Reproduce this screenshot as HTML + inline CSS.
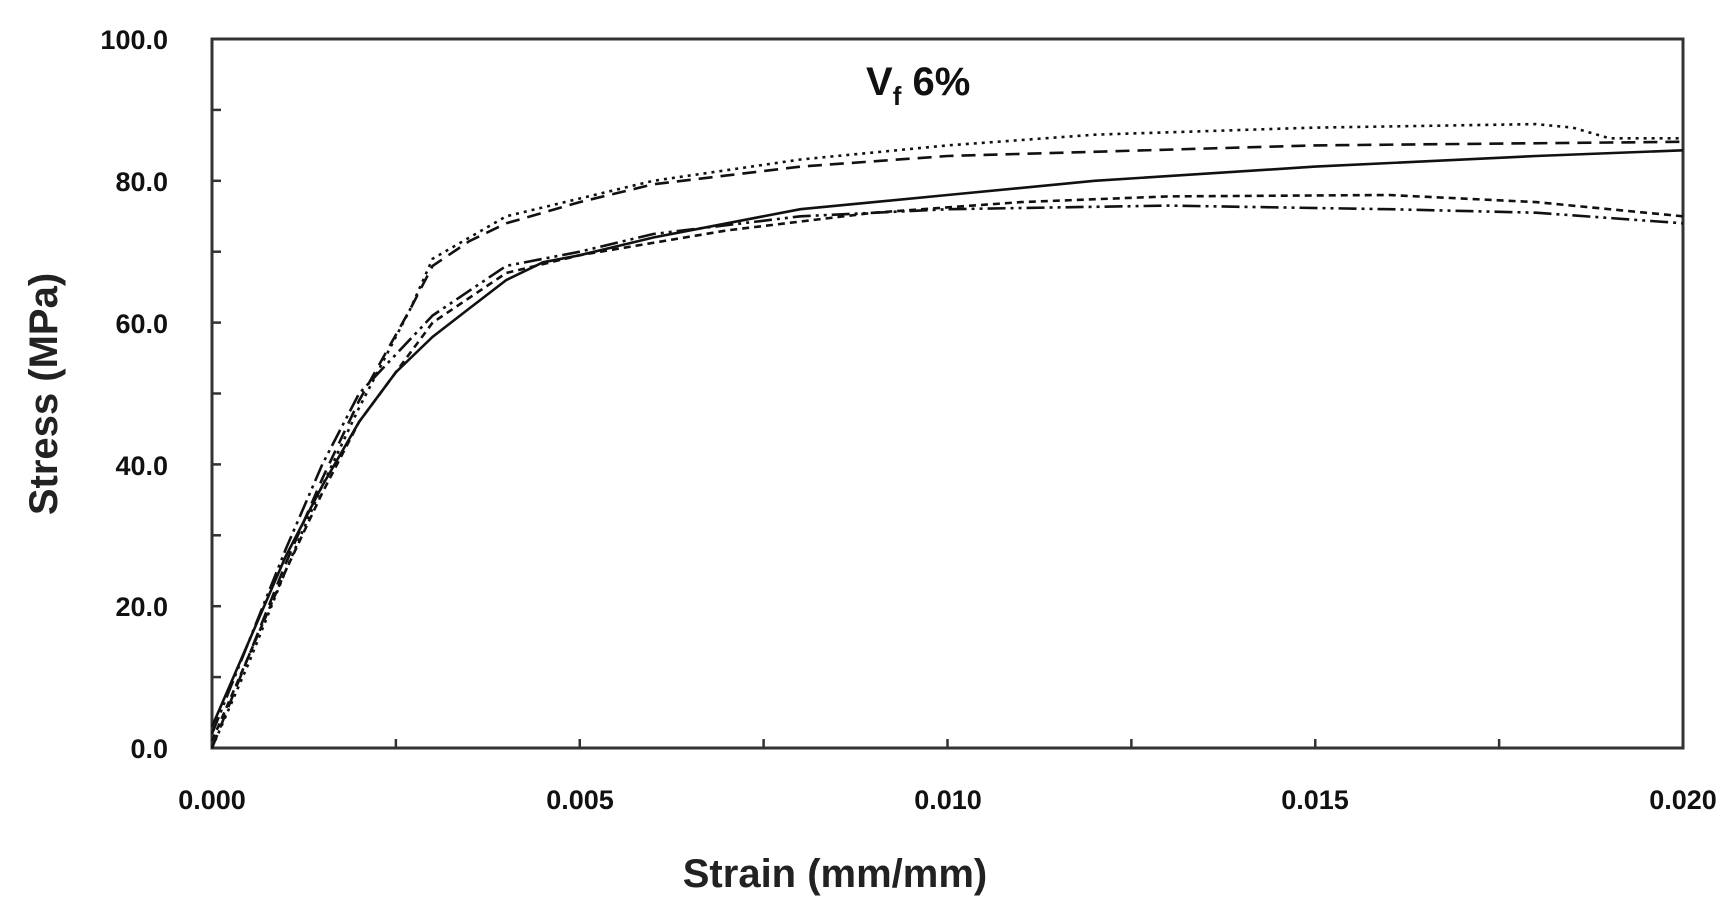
<!DOCTYPE html>
<html><head><meta charset="utf-8"><style>
html,body{margin:0;padding:0;background:#fff;}
svg{display:block;font-family:"Liberation Sans","DejaVu Sans",sans-serif;}
</style></head><body>
<svg id="c" width="1735" height="912" viewBox="0 0 1735 912" xmlns="http://www.w3.org/2000/svg">
<rect width="1735" height="912" fill="#fff"/>
<rect x="212" y="39" width="1471" height="709" fill="none" stroke="#333" stroke-width="3"/>
<g font-size="27" font-weight="bold" fill="#111" text-anchor="end">
<text x="168" y="49">100.0</text>
<text x="168" y="191">80.0</text>
<text x="168" y="333">60.0</text>
<text x="168" y="475">40.0</text>
<text x="168" y="616">20.0</text>
<text x="168" y="758">0.0</text>
</g>
<g font-size="27" font-weight="bold" fill="#111" text-anchor="middle">
<text x="212" y="809">0.000</text>
<text x="580" y="809">0.005</text>
<text x="948" y="809">0.010</text>
<text x="1315" y="809">0.015</text>
<text x="1683" y="809">0.020</text>
</g>
<text x="835" y="887" font-size="40" font-weight="bold" text-anchor="middle" fill="#222">Strain (mm/mm)</text>
<text transform="translate(57,394) rotate(-90)" font-size="40" font-weight="bold" text-anchor="middle" fill="#222">Stress (MPa)</text>
<text x="866" y="95" font-size="40" font-weight="bold" fill="#111">V<tspan font-size="26" dy="10">f</tspan><tspan dy="-10"> 6%</tspan></text>
<g id="ticks" stroke="#333" stroke-width="2.5"></g>
<g id="curves" fill="none" stroke="#111" stroke-width="2.6"></g>
</svg>
<script>
var X=function(s){return 212+s*73550}, Y=function(v){return 748-v*7.09};
var t=document.getElementById('ticks'),h='';
for(var v=10;v<95;v+=10){h+='<line x1="212" x2="221" y1="'+Y(v)+'" y2="'+Y(v)+'"/>';}
for(var s=0.0025;s<0.0199;s+=0.0025){h+='<line y1="748" y2="739" x1="'+X(s)+'" x2="'+X(s)+'"/>';}
t.innerHTML=h;
var C=[
 {d:'',p:[[0,3],[0.0005,15],[0.001,27],[0.0015,37],[0.002,46],[0.0025,53],[0.003,58],[0.0035,62],[0.004,66],[0.0045,68.5],[0.005,69.5],[0.006,72],[0.007,74],[0.008,76],[0.01,78],[0.012,80],[0.015,82],[0.018,83.5],[0.02,84.3]]},
 {d:'3 5',p:[[0,0],[0.0005,12],[0.001,25],[0.0015,37],[0.002,48],[0.0027,62],[0.003,69],[0.0035,72],[0.004,75],[0.005,77.5],[0.006,80],[0.008,83],[0.01,85],[0.012,86.5],[0.015,87.5],[0.018,88],[0.0185,87.5],[0.019,86],[0.02,86]]},
 {d:'14 8',p:[[0,0],[0.0005,13],[0.001,26],[0.0015,38],[0.002,49],[0.0027,62],[0.003,68],[0.0035,71.5],[0.004,74],[0.005,77],[0.006,79.5],[0.008,82],[0.01,83.5],[0.015,85],[0.02,85.5]]},
 {d:'7 5',p:[[0,1],[0.0005,13],[0.001,25],[0.0015,36],[0.002,46],[0.003,60],[0.004,67],[0.005,69.5],[0.007,73],[0.009,75.5],[0.011,77],[0.013,77.8],[0.016,78],[0.018,77],[0.02,75]]},
 {d:'18 5 3 5 3 5',p:[[0,2],[0.0005,15],[0.001,28],[0.0015,40],[0.002,50],[0.003,61],[0.004,68],[0.005,70],[0.006,72.5],[0.008,75],[0.01,76],[0.013,76.5],[0.016,76],[0.018,75.5],[0.02,74]]}
];
var g=document.getElementById('curves'),o='';
C.forEach(function(c){var d=c.p.map(function(q,i){return (i?'L':'M')+X(q[0]).toFixed(1)+' '+Y(q[1]).toFixed(1)}).join(' ');
o+='<path d="'+d+'"'+(c.d?' stroke-dasharray="'+c.d+'"':'')+'/>';});
g.innerHTML=o;
</script>
</body></html>
